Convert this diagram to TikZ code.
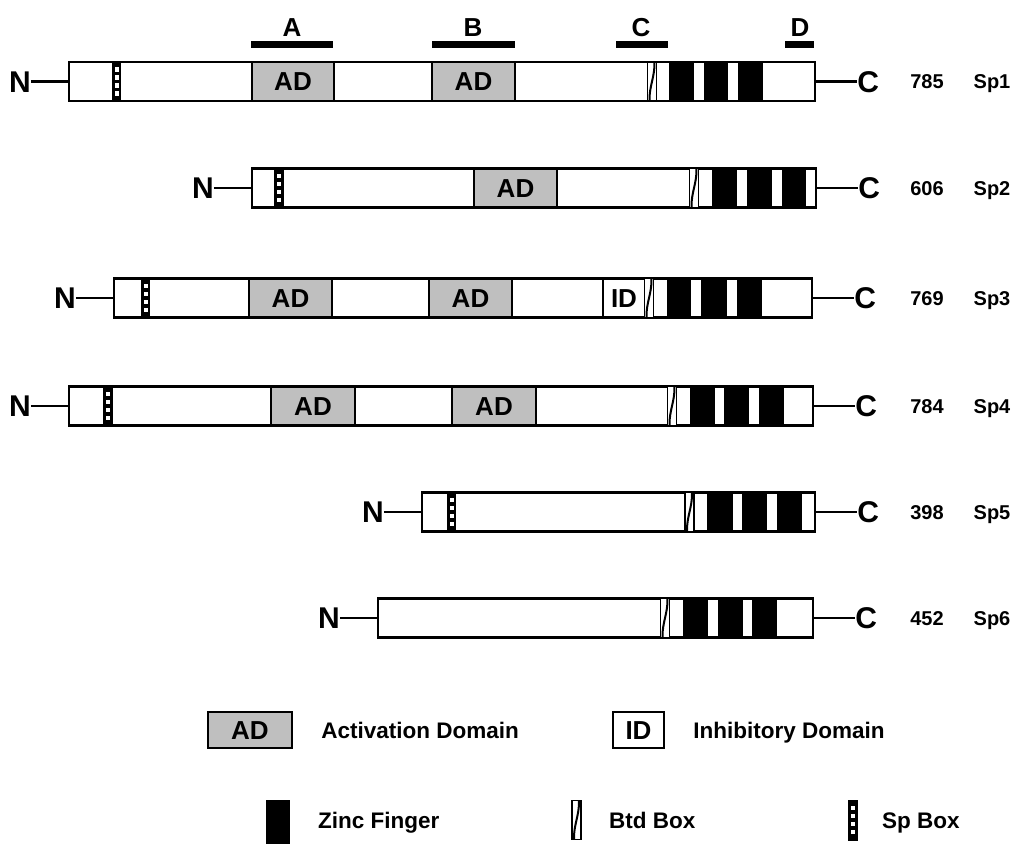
\documentclass[tikz,border=0pt]{standalone}
\usepackage{fontspec}
\setmainfont{Liberation Sans}
\usetikzlibrary{positioning}

\tikzset{
  chain/.style={draw, line width=2.2pt, fill=white, minimum height=39, inner sep=0pt},
  ad/.style={draw, line width=2.2pt, fill=black!25, minimum height=39, inner sep=0pt,
    font=\fontsize{26}{26}\selectfont\bfseries, text height=18.6pt, text depth=0pt},
  idbox/.style={ad, fill=white},
  link/.style={line width=2.2pt},
  region/.style={line width=7pt},
  term/.style={font=\fontsize{30}{30}\selectfont\bfseries, inner sep=0pt, text height=21.5pt, text depth=0pt},
  letter/.style={font=\fontsize{26}{26}\selectfont\bfseries, inner sep=0pt, text height=18.6pt, text depth=0pt},
  num/.style={font=\fontsize{20}{20}\selectfont\bfseries, inner sep=0pt, text height=14.3pt, text depth=0pt},
  keytext/.style={font=\fontsize{22.5}{22.5}\selectfont\bfseries, inner sep=0pt, text height=16.1pt, text depth=0pt, anchor=west},
  btd/.pic={
    \draw[line width=1.8pt, fill=white] (-4.5,-19.5) rectangle (4.5,19.5);
    \draw[line width=2pt] (-2.5,19.5) .. controls (-3,5) and (3,-5) .. (2.5,-19.5);
  },
  spbox/.pic={
    \fill (-4.8,-20.5) rectangle (4.8,20.5);
    \foreach \d in {-12,-4,4,12}
      \fill[white] (-2,\d-2.3) rectangle (2,\d+2.3);
  }
}

\begin{document}
\begin{tikzpicture}[x=1pt, y=-1pt]
\useasboundingbox (0,0) rectangle (1019,844);

% regions A-D
\draw[region] (251,44) -- (333,44);
\draw[region] (432,44) -- (515,44);
\draw[region] (616,44) -- (668,44);
\draw[region] (785,44) -- (814,44);
\node[letter] (la) at (292,27) {A};
\node[letter] (lb) at (473,27) {B};
\node[letter] (lc) at (641,27) {C};
\node[letter] (ld) at (800,27) {D};

% Sp1
\node[chain, minimum width=746] (sp1) at (442,81.5) {};
\pic at (116.5,81.5) {spbox};
\node[ad, minimum width=82] (ad1a) at (293,81.5) {AD};
\node[ad, minimum width=83] (ad1b) at (473.5,81.5) {AD};
\pic at (652,81.5) {btd};
\foreach \a/\b in {669/694, 704/728, 738/763}
  \fill (\a,62) rectangle (\b,101);
\node[term, left=37pt of sp1] (n1) {N};
\node[term, right=41pt of sp1] (c1) {C};
\draw[link] (n1) -- (sp1);
\draw[link] (sp1) -- (c1);
\node[num] (len1) at (927,81.5) {785};
\node[num] (name1) at (992,81.5) {Sp1};

% Sp2
\node[chain, minimum width=564] (sp2) at (534,188) {};
\pic at (279,188) {spbox};
\node[ad, minimum width=83] (ad2) at (515.5,188) {AD};
\pic at (694,188) {btd};
\foreach \a/\b in {712/737, 747/772, 782/806}
  \fill (\a,168.5) rectangle (\b,207.5);
\node[term, left=37pt of sp2] (n2) {N};
\node[term, right=41pt of sp2] (c2) {C};
\draw[link] (n2) -- (sp2);
\draw[link] (sp2) -- (c2);
\node[num] (len2) at (927,188) {606};
\node[num] (name2) at (992,188) {Sp2};

% Sp3
\node[chain, minimum width=698] (sp3) at (463,298) {};
\pic at (145.5,298) {spbox};
\node[ad, minimum width=83] (ad3a) at (290.5,298) {AD};
\node[ad, minimum width=83] (ad3b) at (470.5,298) {AD};
\node[idbox, minimum width=42] (id3) at (624,298) {ID};
\pic at (649,298) {btd};
\foreach \a/\b in {667/691, 701/727, 737/762}
  \fill (\a,278.5) rectangle (\b,317.5);
\node[term, left=37pt of sp3] (n3) {N};
\node[term, right=41pt of sp3] (c3) {C};
\draw[link] (n3) -- (sp3);
\draw[link] (sp3) -- (c3);
\node[num] (len3) at (927,298) {769};
\node[num] (name3) at (992,298) {Sp3};

% Sp4
\node[chain, minimum width=744] (sp4) at (441,406) {};
\pic at (108,406) {spbox};
\node[ad, minimum width=84] (ad4a) at (313,406) {AD};
\node[ad, minimum width=84] (ad4b) at (494,406) {AD};
\pic at (672,406) {btd};
\foreach \a/\b in {690/715, 724/749, 759/784}
  \fill (\a,386.5) rectangle (\b,425.5);
\node[term, left=37pt of sp4] (n4) {N};
\node[term, right=41pt of sp4] (c4) {C};
\draw[link] (n4) -- (sp4);
\draw[link] (sp4) -- (c4);
\node[num] (len4) at (927,406) {784};
\node[num] (name4) at (992,406) {Sp4};

% Sp5
\node[chain, minimum width=393] (sp5) at (618.5,512) {};
\pic at (451.5,512) {spbox};
\pic at (689.5,512) {btd};
\foreach \a/\b in {707/733, 742/767, 777/802}
  \fill (\a,492.5) rectangle (\b,531.5);
\node[term, left=37pt of sp5] (n5) {N};
\node[term, right=41pt of sp5] (c5) {C};
\draw[link] (n5) -- (sp5);
\draw[link] (sp5) -- (c5);
\node[num] (len5) at (927,512) {398};
\node[num] (name5) at (992,512) {Sp5};

% Sp6
\node[chain, minimum width=435] (sp6) at (595.5,618) {};
\pic at (665,618) {btd};
\foreach \a/\b in {683/708, 718/743, 752/777}
  \fill (\a,598.5) rectangle (\b,637.5);
\node[term, left=37pt of sp6] (n6) {N};
\node[term, right=41pt of sp6] (c6) {C};
\draw[link] (n6) -- (sp6);
\draw[link] (sp6) -- (c6);
\node[num] (len6) at (927,618) {452};
\node[num] (name6) at (992,618) {Sp6};

% key
\node[ad, minimum width=84, minimum height=36] (keyad) at (250,730) {AD};
\node[keytext, right=28pt of keyad] (keyadtext) {Activation Domain};
\node[idbox, minimum width=51, minimum height=36] (keyid) at (638.5,730) {ID};
\node[keytext, right=28pt of keyid] (keyidtext) {Inhibitory Domain};

\fill (266,800) rectangle (290,844);
\node[keytext] (keyzf) at (318,820) {Zinc Finger};
\pic at (576.5,820) {btd};
\node[keytext] (keybtd) at (609,820) {Btd Box};
\pic at (853,820) {spbox};
\node[keytext] (keysp) at (882,820) {Sp Box};
\end{tikzpicture}
\end{document}
